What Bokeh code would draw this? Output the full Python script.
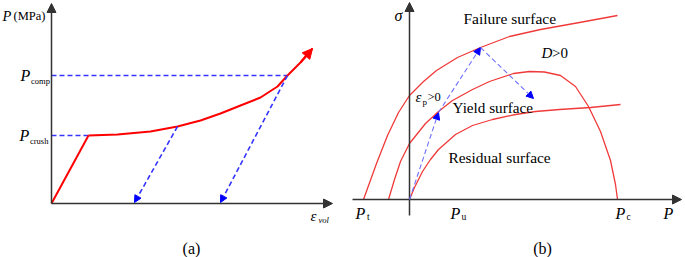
from bokeh.plotting import figure
from bokeh.models import Range1d, Arrow, NormalHead, Label
from bokeh.layouts import row
from bokeh.embed import file_html
from bokeh.resources import INLINE

# ---------------- panel (a): P vs volumetric strain ----------------
elastic_eps = [0, 37]
elastic_p = [0, 68]
harden_eps = [37, 66, 99, 126, 149, 169, 189, 209, 226, 236, 249, 261]
harden_p = [68, 69, 72, 77, 83, 90, 98, 106, 117, 128, 141, 155]
p_crush = 68
p_comp = 128
eps_crush = 37
eps_comp = 236
unload_from_eps = [126, 236]
unload_from_p = [77, 128]
unload_to_eps = [83, 169]
unload_to_p = [1, 1]
axis_a_eps_max = 281
axis_a_p_max = 200

# ---------------- panel (b): sigma vs P ----------------
failure_p = [-46, -33, -22, -11, 0, 14, 27, 48, 71, 100, 131, 170, 208]
failure_s = [0, 36, 64, 87, 104, 118, 129, 142, 152, 163, 170, 177, 184]
yield_p = [-21, -15, -9, 0, 16, 29, 43, 63, 80, 104, 120, 135, 151, 166, 179, 191, 201, 206, 208]
yield_s = [0, 20, 38, 56, 76, 88, 99, 110, 118, 126, 128, 127.5, 124, 113, 93, 68, 39, 15, 0]
resid_p = [0, 5, 13, 21, 29, 46, 63, 83, 106, 126, 150, 181, 211]
resid_s = [0, 12, 28, 40, 50, 65, 74, 80, 85, 88, 90, 92, 95]
path_p = [0, 29, 71, 124]
path_s = [0, 87, 152, 101]
p_t, p_u, p_c = -46, 44, 208
axis_b_p_min, axis_b_p_max = -57, 272
axis_b_s_min, axis_b_s_max = -16, 197

SERIF = "Liberation Serif"
AXIS_COLOR = "#333333"
H = 257


def make_fig(width, xr, yr):
    f = figure(width=width, height=H, x_range=Range1d(*xr), y_range=Range1d(*yr),
               x_axis_type=None, y_axis_type=None, toolbar_location=None,
               output_backend="svg", min_border=0, outline_line_color=None)
    f.xgrid.visible = False
    f.ygrid.visible = False
    f.background_fill_color = "white"
    f.border_fill_color = "white"
    return f


def txt(f, x, y, text, size, italic=False, align="left"):
    f.add_layout(Label(x=x, y=y, text=text, text_font=SERIF,
                       text_font_size=f"{size}px",
                       text_font_style="italic" if italic else "normal",
                       text_baseline="middle", text_align=align,
                       text_color="black"))


def arrow(f, x0, y0, x1, y1, color, width, size, dash="solid", head_color=None):
    hc = head_color or color
    f.add_layout(Arrow(end=NormalHead(size=size, fill_color=hc, line_color=hc, line_width=1),
                       x_start=x0, y_start=y0, x_end=x1, y_end=y1,
                       line_color=color, line_width=width, line_dash=dash))


# ---------- figure (a) ----------
fa = make_fig(342, (-51, 291), (-54, 203))
arrow(fa, 0, 0, axis_a_eps_max, 0, AXIS_COLOR, 1.5, 9)
arrow(fa, 0, 0, 0, axis_a_p_max, AXIS_COLOR, 1.5, 9)

blue_a = "#3535ff"
fa.line([0, eps_comp], [p_comp, p_comp], line_color=blue_a, line_width=1.4, line_dash="5 3")
fa.line([0, eps_crush], [p_crush, p_crush], line_color=blue_a, line_width=1.4, line_dash="5 3")
for i in range(len(unload_from_eps)):
    arrow(fa, unload_from_eps[i], unload_from_p[i], unload_to_eps[i], unload_to_p[i],
          blue_a, 1.6, 7, dash="5 3", head_color="#0000ff")

fa.line(elastic_eps, elastic_p, line_color="#ff0000", line_width=2)
fa.line(harden_eps, harden_p, line_color="#ff0000", line_width=2, line_join="round")
arrow(fa, harden_eps[-2], harden_p[-2], harden_eps[-1], harden_p[-1], "#ff0000", 2, 10)

txt(fa, -49, 188, "P", 14.5, italic=True)
txt(fa, -38, 188, "(MPa)", 12.5)
txt(fa, -31, p_comp, "P", 16, italic=True)
txt(fa, -20.5, p_comp - 5, "comp", 8.5)
txt(fa, -32, p_crush, "P", 16, italic=True)
txt(fa, -21.5, p_crush - 5, "crush", 8.5)
txt(fa, 259, -12, "\u03b5", 15, italic=True)
txt(fa, 267, -16, "vol", 8.5, italic=True)
txt(fa, 140, -44.5, "(a)", 16, align="center")

# ---------- figure (b) ----------
fb = make_fig(343, (-67, 276), (-58, 199))
arrow(fb, axis_b_p_min, 0, axis_b_p_max, 0, AXIS_COLOR, 1.5, 9)
arrow(fb, 0, axis_b_s_min, 0, axis_b_s_max, AXIS_COLOR, 1.5, 9)

red_b = "#f03a3a"
fb.line(failure_p, failure_s, line_color=red_b, line_width=1.3, line_join="round")
fb.line(yield_p, yield_s, line_color=red_b, line_width=1.3, line_join="round")
fb.line(resid_p, resid_s, line_color=red_b, line_width=1.3, line_join="round")

for i in range(len(path_p) - 1):
    arrow(fb, path_p[i], path_s[i], path_p[i + 1], path_s[i + 1],
          "#7070ff", 1.1, 7, dash="5 3", head_color="#0000ff")

txt(fb, -11, 184, "\u03c3", 16, italic=True, align="center")
txt(fb, 54, 181, "Failure surface", 15.5)
txt(fb, 132, 147, "D", 15, italic=True)
txt(fb, 142.5, 147, ">0", 15)
txt(fb, 6, 103, "\u03b5", 15, italic=True)
txt(fb, 13, 98, "p", 9)
txt(fb, 18, 103, ">0", 12.5)
txt(fb, 43, 92, "Yield surface", 15.2)
txt(fb, 39, 42, "Residual surface", 15.4)
txt(fb, p_t - 8, -14, "P", 16, italic=True)
txt(fb, p_t + 3.5, -17, "t", 9.5)
txt(fb, p_u - 3, -14, "P", 16, italic=True)
txt(fb, p_u + 8, -17, "u", 9.5)
txt(fb, p_c - 2, -14, "P", 16, italic=True)
txt(fb, p_c + 9, -17, "c", 9.5)
txt(fb, 254, -14, "P", 16, italic=True)
txt(fb, 133, -48.5, "(b)", 16, align="center")

layout = row(fa, fb)
open("out.html", "w").write(file_html(layout, INLINE))
